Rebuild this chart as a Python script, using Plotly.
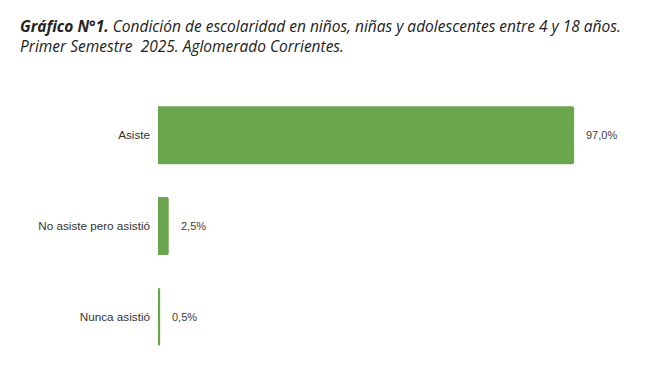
import plotly.graph_objects as go

categories = ["Asiste", "No asiste pero asistió", "Nunca asistió"]
values = [97.0, 2.5, 0.5]
value_labels = ["97,0%", "2,5%", "0,5%"]

title_text = ("<b><i>Gráfico N°1.</i></b><i> Condición de escolaridad en niños, niñas y "
              "adolescentes entre 4 y 18 años.<br>Primer Semestre  2025. Aglomerado Corrientes.</i>")

bar_color = "#6AA64E"

W, H = 653, 358  # page body adds 8px margin
ML, MR, MT, MB = 150, 74, 81.5, 3.5
PW, PH = W - ML - MR, H - MT - MB

fig = go.Figure()
fig.add_trace(go.Bar(
    x=values, y=categories, orientation="h",
    marker=dict(color=bar_color, line=dict(width=0), cornerradius=2),
    width=0.64, hoverinfo="skip",
))

for c, v, t in zip(categories, values, value_labels):
    fig.add_annotation(x=v, y=c, xref="x", yref="y", text=t, showarrow=False,
                       xanchor="left", yanchor="middle", xshift=10,
                       font=dict(family="Liberation Sans, Arial", size=11, color="#404040"))

fig.add_annotation(
    xref="paper", yref="paper",
    x=(10 - ML) / PW, y=1 + (MT - 4) / PH,
    xanchor="left", yanchor="top", align="left", showarrow=False,
    text=title_text,
    font=dict(family="Open Sans", size=15.5, color="#222222"),
)

fig.update_layout(
    width=W, height=H,
    margin=dict(l=ML, r=MR, t=MT, b=MB, autoexpand=False),
    paper_bgcolor="white", plot_bgcolor="white",
    showlegend=False,
    xaxis=dict(range=[0, 100], visible=False, fixedrange=True),
    yaxis=dict(autorange="reversed", showgrid=False, zeroline=False, showline=False,
               ticks="", ticklabelstandoff=7,
               tickfont=dict(family="Liberation Sans, Arial", size=11.7, color="#333333")),
)
fig.write_html("out.html")
